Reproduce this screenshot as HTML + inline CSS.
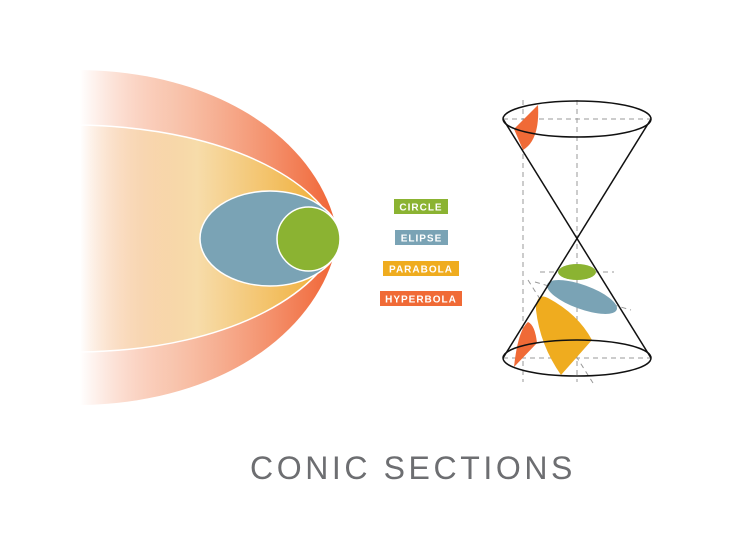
<!DOCTYPE html>
<html><head><meta charset="utf-8"><style>
html,body{margin:0;padding:0;background:#fff;width:750px;height:553px;overflow:hidden}
</style></head><body>
<svg width="750" height="553" viewBox="0 0 750 553" xmlns="http://www.w3.org/2000/svg">
<defs>
<linearGradient id="go" x1="80" y1="0" x2="340" y2="0" gradientUnits="userSpaceOnUse">
<stop offset="0" stop-color="#f26a36" stop-opacity="0"/>
<stop offset="0.35" stop-color="#f4a07a" stop-opacity="0.6"/>
<stop offset="1" stop-color="#f06030"/>
</linearGradient>
<linearGradient id="gy" x1="80" y1="0" x2="340" y2="0" gradientUnits="userSpaceOnUse">
<stop offset="0" stop-color="#f6d9a0" stop-opacity="0"/>
<stop offset="0.45" stop-color="#f7dcaa"/>
<stop offset="1" stop-color="#efa92a"/>
</linearGradient>
</defs>
<path d="M80,70 C230,72 325,150 338,237 C325,324 230,403 80,405 Z" fill="url(#go)"/>
<path d="M80,125 C240,128 328,190 338,237 C328,285 240,350 80,352 Z" fill="url(#gy)" stroke="#fff" stroke-width="1.5"/>
<ellipse cx="270" cy="238.5" rx="70" ry="47.5" fill="#7aa3b5" stroke="#fff" stroke-width="1.5"/>
<ellipse cx="308.5" cy="239" rx="31.5" ry="32" fill="#8bb332" stroke="#fff" stroke-width="1.5"/>

<g font-family="Liberation Sans, sans-serif" font-weight="bold" font-size="10" fill="#fff" text-anchor="middle" letter-spacing="1">
<rect x="394" y="199" width="54" height="15" fill="#8bb332"/><text x="421" y="210.5">CIRCLE</text>
<rect x="395" y="230" width="53" height="15" fill="#7aa3b5"/><text x="421.5" y="241.5">ELIPSE</text>
<rect x="383" y="261" width="76" height="15" fill="#efac1f"/><text x="421" y="272.5">PARABOLA</text>
<rect x="380" y="291" width="82" height="15" fill="#f06a36"/><text x="421" y="302.5">HYPERBOLA</text>
</g>

<g stroke="#999" stroke-width="1" stroke-dasharray="5,4" fill="none">
<line x1="523" y1="100" x2="523" y2="382"/>
<line x1="577" y1="100" x2="577" y2="382"/>
<line x1="503" y1="119" x2="651" y2="119"/>
<line x1="503" y1="358" x2="651" y2="358"/>
<line x1="540" y1="272" x2="614" y2="272"/>
<line x1="535" y1="282" x2="631" y2="310"/>
<line x1="528" y1="280" x2="593" y2="383"/>
</g>
<ellipse cx="577" cy="272" rx="19" ry="8" fill="#8bb332"/>
<ellipse cx="582" cy="297" rx="37" ry="12" fill="#7aa3b5" transform="rotate(20 582 297)"/>
<path d="M536,310 Q536,292 548,298 Q578,314 592,340 L561,375 Q540,345 536,310 Z" fill="#efac1f"/>
<path d="M514,367 Q518,330 528,322 Q535,325 537,343 L514,367 Z" fill="#f06a36"/>
<path d="M514,129 L538,105 Q540,140 523,150 Z" fill="#f06a36"/>
<g stroke="#111" stroke-width="1.5" fill="none">
<ellipse cx="577" cy="119" rx="74" ry="18"/>
<ellipse cx="577" cy="358" rx="74" ry="18"/>
<line x1="503" y1="119" x2="651" y2="358"/>
<line x1="651" y1="119" x2="503" y2="358"/>
</g>

<text x="413" y="479" font-family="Liberation Sans, sans-serif" font-size="32" fill="#6d6e71" text-anchor="middle" letter-spacing="3.6">CONIC SECTIONS</text>
</svg>
</body></html>
